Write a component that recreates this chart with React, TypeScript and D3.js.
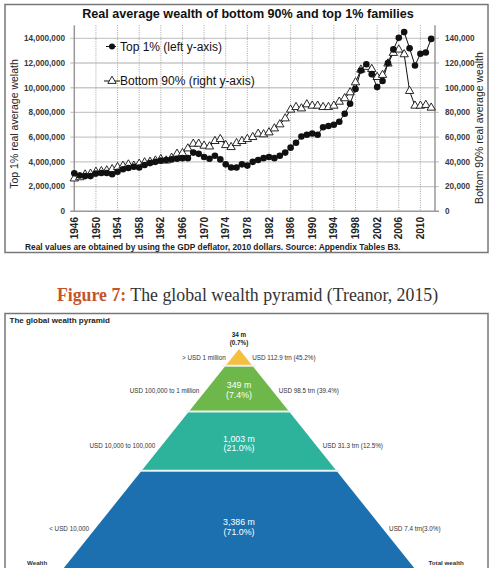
import React from 'react';
import * as d3 from 'd3';

const years = [
  1946, 1947, 1948, 1949, 1950, 1951, 1952, 1953, 1954, 1955,
  1956, 1957, 1958, 1959, 1960, 1961, 1962, 1963, 1964, 1965,
  1966, 1967, 1968, 1969, 1970, 1971, 1972, 1973, 1974, 1975,
  1976, 1977, 1978, 1979, 1980, 1981, 1982, 1983, 1984, 1985,
  1986, 1987, 1988, 1989, 1990, 1991, 1992, 1993, 1994, 1995,
  1996, 1997, 1998, 1999, 2000, 2001, 2002, 2003, 2004, 2005,
  2006, 2007, 2008, 2009, 2010, 2011, 2012,
];
// Top 1% real average wealth, millions of 2010 USD (left axis)
const top1Wealth = [
  3.08, 2.9, 2.85, 2.85, 3.05, 3.1, 3.1, 3.0, 3.2, 3.4,
  3.5, 3.6, 3.55, 3.75, 3.9, 4.0, 4.1, 4.15, 4.2, 4.25,
  4.3, 4.3, 4.75, 4.65, 4.4, 4.25, 4.5, 4.2, 3.8, 3.55,
  3.55, 3.8, 3.7, 4.0, 4.15, 4.3, 4.4, 4.3, 4.5, 4.75,
  5.15, 5.55, 6.05, 6.2, 6.3, 6.2, 6.8, 6.9, 7.0, 7.25,
  7.9, 8.7, 9.9, 11.4, 11.9, 11.1, 10.05, 10.55, 12.0, 13.1,
  14.05, 14.5, 13.2, 11.8, 12.75, 12.85, 13.95,
];
// Bottom 90% real average wealth, thousands of 2010 USD (right axis)
const bottom90Wealth = [
  26.5, 27.5, 29.7, 30.3, 31.9, 32.4, 33, 34, 35.7, 36.8,
  37.8, 36.8, 38.4, 39.5, 40, 41, 42.2, 41, 43.2, 46.5,
  47, 50.8, 54.6, 54.6, 53, 52.4, 56.8, 58.4, 53.5, 51.9,
  55.1, 56.8, 58.4, 60, 62.7, 62.2, 63.8, 67, 70.3, 75.1,
  82.2, 84.3, 83.2, 86.5, 85.4, 85.4, 84.3, 84.3, 85.4, 88.6,
  91.4, 96.2, 104.3, 114.6, 116.8, 115.1, 108.6, 110.3, 119.5, 128.1,
  130.8, 127, 97.3, 85.4, 85.4, 86, 83.8,
];
const leftTicks = [0, 2, 4, 6, 8, 10, 12, 14];
const rightTicks = [0, 20, 40, 60, 80, 100, 120, 140];
const yearTicks = [1946, 1950, 1954, 1958, 1962, 1966, 1970, 1974, 1978, 1982, 1986, 1990, 1994, 1998, 2002, 2006, 2010];

const chartTitle = 'Real average wealth of bottom 90% and top 1% families';
const leftAxisTitle = 'Top 1% real average welath';
const rightAxisTitle = 'Bottom 90% real average wealth';
const legendLabels = ['Top 1% (left y-axis)', 'Bottom 90% (right y-axis)'];
const footnote = 'Real values are obtained by using the GDP deflator, 2010 dollars. Source: Appendix Tables B3.';

const pyramidTitle = 'The global wealth pyramid';
const pyramidPop = ['34 m', '349 m', '1,003 m', '3,386 m'];
const pyramidPopShare = ['(0.7%)', '(7.4%)', '(21.0%)', '(71.0%)'];
const pyramidWealthRange = ['> USD 1 million', 'USD 100,000 to 1 million', 'USD 10,000 to 100,000', '< USD 10,000'];
const pyramidTotalWealth = ['USD 112.9 trn (45.2%)', 'USD 98.5 trn (39.4%)', 'USD 31.3 trn (12.5%)', 'USD 7.4 trn(3.0%)'];
const pyramidColors = ['#F5BF3F', '#6EB74B', '#2DB29C', '#1C70B0'];

const SANS = 'Liberation Sans, Arial, sans-serif';
const SERIF = 'Liberation Serif, Times New Roman, serif';

export default function App() {
  const x = d3.scaleLinear().domain([1946, 2012.7]).range([74.3, 435]);
  const yL = d3.scaleLinear().domain([0, 14]).range([211.3, 38.3]);
  const yR = d3.scaleLinear().domain([0, 140]).range([211.3, 38.3]);
  const plotTop = yL(15.05);
  const plotBottom = yL(0);
  const xL = x(1946);
  const xR = x(2012.7);

  const lineTop = d3.line<number>().x((_, i) => x(years[i])).y((d) => yL(d));
  const lineBot = d3.line<number>().x((_, i) => x(years[i])).y((d) => yR(d));
  const tri = d3.symbol().type(d3.symbolTriangle).size(30)();

  // pyramid geometry
  const apexY = 349;
  const baseY = 586;
  const cx = 239;
  const slope = 0.8;
  const bandEdges = [apexY, 365.8, 411.6, 470.8, baseY];
  const half = (y: number) => slope * (y - apexY);
  const labelY = [357.5, 390.5, 445.5, 528.5];
  const popY = [335, 385, 438.5, 522];

  return (
    <svg width={490} height={568} style={{ position: 'absolute', left: 0, top: 0 }} fontFamily={SANS}>
      <rect x={0} y={0} width={490} height={568} fill="#fff" />
      {/* top chart frame */}
      <rect x={5} y={4.5} width={483} height={248} fill="none" stroke="#777" strokeWidth={1.5} />
      <text x={248} y={18} textAnchor="middle" fontWeight="bold" fontSize={12.6} fill="#111">{chartTitle}</text>

      {/* horizontal grid */}
      {leftTicks.filter((t) => t > 0).map((t) => (
        <line key={'hg' + t} x1={xL - 4} x2={xR + 4} y1={yL(t)} y2={yL(t)} stroke="#c9c9c9" strokeWidth={1.3} />
      ))}
      {/* vertical grid */}
      {yearTicks.filter((t) => t > 1946).map((t) => (
        <line key={'vg' + t} x1={x(t)} x2={x(t)} y1={plotTop} y2={plotBottom} stroke="#9a9a9a" strokeWidth={0.9} strokeDasharray="1,1.3" />
      ))}
      {/* axes */}
      <line x1={xL} x2={xL} y1={plotTop} y2={plotBottom} stroke="#999" strokeWidth={1.5} />
      <line x1={xR} x2={xR} y1={plotTop} y2={plotBottom} stroke="#999" strokeWidth={1.5} />
      <line x1={xL - 4} x2={xR + 4} y1={plotBottom} y2={plotBottom} stroke="#999" strokeWidth={1.5} />

      {leftTicks.map((t) => (
        <text key={'lt' + t} x={65} y={yL(t)} dy="0.35em" textAnchor="end" fontSize={8.2} fontWeight="bold" fill="#3a3a3a">
          {d3.format(',')(t * 1e6)}
        </text>
      ))}
      {rightTicks.map((t) => (
        <text key={'rt' + t} x={445} y={yR(t)} dy="0.35em" textAnchor="start" fontSize={8.2} fontWeight="bold" fill="#3a3a3a">
          {d3.format(',')(t * 1e3)}
        </text>
      ))}
      {yearTicks.map((t) => (
        <text key={'yt' + t} transform={`translate(${x(t)},${217}) rotate(-90)`} dy="0.36em" textAnchor="end" fontSize={10} fontWeight="bold" fill="#222">
          {t}
        </text>
      ))}
      <text transform={`translate(18,${124}) rotate(-90)`} textAnchor="middle" fontSize={10.5} fill="#222">{leftAxisTitle}</text>
      <text transform={`translate(483,${128}) rotate(-90)`} textAnchor="middle" fontSize={10.5} fill="#222">{rightAxisTitle}</text>
      <text x={25} y={249.5} fontSize={8.4} fontWeight="bold" fill="#222">{footnote}</text>

      {/* series */}
      <path d={lineBot(bottom90Wealth) || ''} fill="none" stroke="#111" strokeWidth={1} />
      <path d={lineTop(top1Wealth) || ''} fill="none" stroke="#111" strokeWidth={1} />
      {bottom90Wealth.map((v, i) => (
        <path key={'tr' + i} d={tri || ''} transform={`translate(${x(years[i])},${yR(v)})`} fill="#fff" stroke="#111" strokeWidth={0.9} />
      ))}
      {top1Wealth.map((v, i) => (
        <circle key={'dt' + i} cx={x(years[i])} cy={yL(v)} r={3.3} fill="#111" />
      ))}

      {/* legend */}
      <line x1={106} x2={116} y1={46.5} y2={46.5} stroke="#111" strokeWidth={1} />
      <circle cx={112} cy={46.5} r={3} fill="#111" />
      <text x={120} y={46.5} dy="0.35em" fontSize={12} fill="#111">{legendLabels[0]}</text>
      <line x1={104} x2={120} y1={81} y2={81} stroke="#111" strokeWidth={1} />
      <path d={tri || ''} transform="translate(112,81)" fill="#fff" stroke="#111" strokeWidth={0.9} />
      <text x={120} y={81} dy="0.35em" fontSize={12} fill="#111">{legendLabels[1]}</text>

      {/* caption */}
      <text x={247.5} y={301} textAnchor="middle" fontFamily={SERIF} fontSize={17.8} fill="#333">
        <tspan fontWeight="bold" fill="#C4552B">Figure 7:</tspan>
        <tspan> The global wealth pyramid (Treanor, 2015)</tspan>
      </text>

      {/* pyramid frame */}
      <rect x={5} y={313.5} width={483} height={270} fill="none" stroke="#777" strokeWidth={1.5} />
      <text x={9.5} y={323} fontSize={8} fontWeight="bold" fill="#222">{pyramidTitle}</text>

      {pyramidPop.map((_, i) => {
        const y0 = bandEdges[i];
        const y1 = bandEdges[i + 1];
        const pts = [
          [cx - half(y0), y0],
          [cx + half(y0), y0],
          [cx + half(y1), y1],
          [cx - half(y1), y1],
        ];
        return <polygon key={'pb' + i} points={pts.map((p) => p.join(',')).join(' ')} fill={pyramidColors[i]} />;
      })}
      {bandEdges.slice(1, 4).map((y, i) => (
        <line key={'gap' + i} x1={cx - half(y) - 3} x2={cx + half(y) + 3} y1={y} y2={y} stroke="#e8f2f2" strokeWidth={2} />
      ))}

      {/* pyramid labels */}
      {pyramidPop.map((p, i) => {
        const mid = labelY[i];
        const dark = i === 0;
        const fs = dark ? 6.3 : 8.8;
        return (
          <g key={'pl' + i}>
            <text x={cx} y={popY[i]} dy="0.35em" textAnchor="middle" fontSize={fs} fontWeight={dark ? 'bold' : 'normal'} fill={dark ? '#222' : '#fff'}>{p}</text>
            <text x={cx} y={popY[i] + (dark ? 7.3 : 9.5)} dy="0.35em" textAnchor="middle" fontSize={fs} fontWeight={dark ? 'bold' : 'normal'} fill={dark ? '#222' : '#fff'}>{pyramidPopShare[i]}</text>
            <text x={cx - half(mid) - 6.5} y={mid} dy="0.35em" textAnchor="end" fontSize={6.3} fill="#333">{pyramidWealthRange[i]}</text>
            <text x={cx + half(mid) + 6.5} y={mid} dy="0.35em" textAnchor="start" fontSize={6.3} fill="#333">{pyramidTotalWealth[i]}</text>
          </g>
        );
      })}
      <text x={27} y={565} fontSize={6.2} fontWeight="bold" fill="#333">Wealth</text>
      <text x={428.5} y={565} fontSize={6.2} fontWeight="bold" fill="#333">Total wealth</text>
    </svg>
  );
}
